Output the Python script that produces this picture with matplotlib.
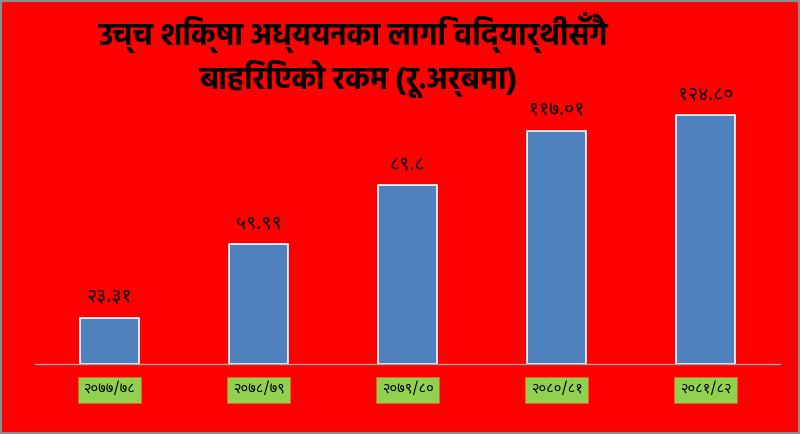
import matplotlib
matplotlib.use('Agg')
import matplotlib.pyplot as plt
from matplotlib import font_manager
from matplotlib.patches import Rectangle

# data
years = ['२०७७/७८', '२०७८/७९', '२०७९/८०', '२०८०/८१', '२०८१/८२']
amounts = [23.31, 59.99, 89.8, 117.01, 124.80]
amount_labels = ['२३.३१', '५९.९९', '८९.८', '११७.०१', '१२४.८०']
title_lines = ['उच्च शिक्षा अध्ययनका लागि विद्यार्थीसँगै', 'बाहिरिएको रकम (रू.अर्बमा)']

# pick devanagari fonts: regular one, and one that has a real bold file
fl = font_manager.fontManager.ttflist
cands = ['Noto Sans Devanagari', 'Hind', 'Mukta', 'Ek Mukta', 'Poppins', 'Annapurna SIL']
deva = 'DejaVu Sans'
for c in cands:
    if any(f.name == c for f in fl):
        deva = c
        break
deva_bold = deva
for c in cands:
    if any(f.name == c and f.weight in (700, 'bold') for f in fl):
        deva_bold = c
        break

fig = plt.figure(figsize=(8, 4.34), dpi=100)
fig.patch.set_facecolor('#FF0000')
fig.patches.append(Rectangle((0, 0), 1, 1, transform=fig.transFigure, fill=False,
                             edgecolor='#8c8c8c', linewidth=3))

ax = fig.add_axes([0.04375, 0.1613, 0.93125, 0.643])
ax.set_facecolor('#FF0000')
x = range(len(years))
ax.bar(x, amounts, width=0.4, color='#4F81BD', edgecolor='white', linewidth=1.2)
ax.set_xlim(-0.5, 4.5)
ax.set_ylim(0, 140)
for s in ['top', 'right', 'left']:
    ax.spines[s].set_visible(False)
ax.spines['bottom'].set_color('#a6a6a6')
ax.spines['bottom'].set_linewidth(1)
ax.set_yticks([])
ax.set_xticks([])

for i, v in enumerate(amounts):
    ax.annotate(amount_labels[i], (i, v), xytext=(0, 15), textcoords='offset points',
                ha='center', va='center', fontsize=14, family=[deva, 'DejaVu Sans'],
                color='black')

for i, yr in enumerate(years):
    ax.text(i, -0.093, yr, transform=ax.get_xaxis_transform(), ha='center', va='center',
            fontsize=10.5, family=[deva, 'DejaVu Sans'], color='black',
            bbox=dict(boxstyle='square,pad=0.38', facecolor='#92D050', edgecolor='#E26B0A',
                      linewidth=0.5))

fig.text(0.442, 0.926, title_lines[0], ha='center', va='center', fontsize=22,
         fontweight='bold', family=[deva_bold, 'DejaVu Sans'])
fig.text(0.449, 0.818, title_lines[1], ha='center', va='center', fontsize=22,
         fontweight='bold', family=[deva_bold, 'DejaVu Sans'])

fig.savefig('out.png', facecolor=fig.get_facecolor())
